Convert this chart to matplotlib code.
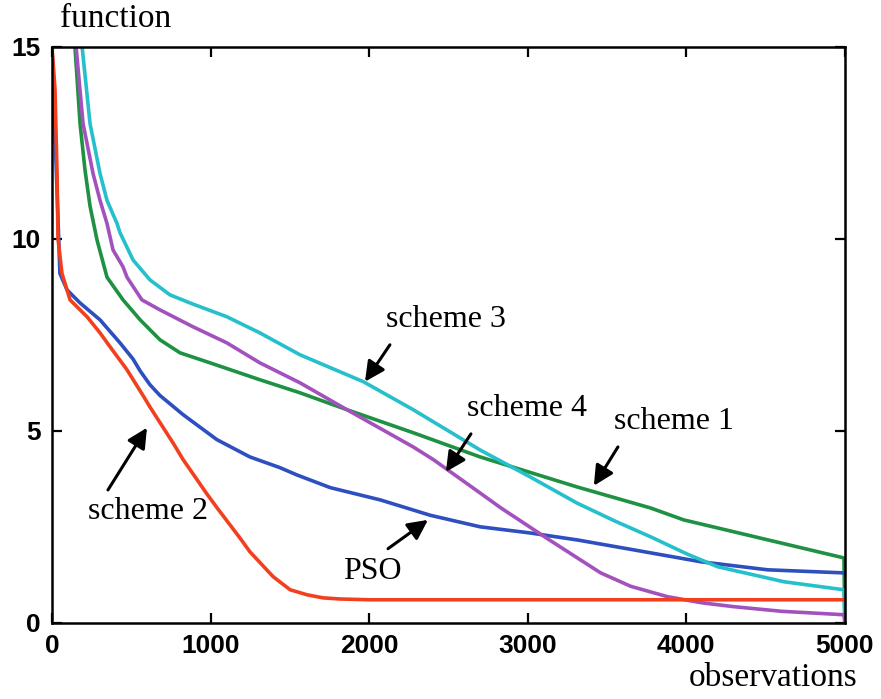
import matplotlib
matplotlib.use('Agg')
import matplotlib.pyplot as plt

# Curves (observations, function value)
pso_x = [0, 0, 50, 95, 177, 303, 429, 511, 556, 618, 681, 827, 1040, 1248, 1438, 1545, 1755,
         2071, 2386, 2700, 3015, 3310, 3668, 4091, 4514, 4994]
pso_y = [15.5, 15, 9.1, 8.67, 8.33, 7.89, 7.29, 6.87, 6.56, 6.2, 5.92, 5.42, 4.77, 4.32, 4.04, 3.85, 3.52,
         3.2, 2.8, 2.5, 2.34, 2.16, 1.9, 1.59, 1.38, 1.3]

s1_x = [135, 145, 177, 208, 240, 284, 347, 448, 556, 681, 808, 997, 1311, 1564, 1860,
        2278, 2700, 3310, 3775, 3984, 4514, 4994, 5000]
s1_y = [15.6, 15, 13.0, 11.8, 10.85, 9.97, 9.0, 8.41, 7.89, 7.37, 7.03, 6.77, 6.33, 5.99, 5.55,
        4.95, 4.32, 3.54, 2.99, 2.68, 2.16, 1.69, 0]

s2_x = [0, 0, 19, 32, 38, 63, 114, 221, 303, 366, 473, 574, 618, 764, 827, 978, 1040, 1187, 1248,
        1395, 1502, 1608, 1709, 1818, 2000, 5000]
s2_y = [15.5, 15, 13.9, 11.7, 10.0, 9.1, 8.41, 7.97, 7.55, 7.19, 6.59, 5.92, 5.62, 4.68, 4.25, 3.35, 3.0, 2.2, 1.85,
        1.2, 0.86, 0.73, 0.65, 0.62, 0.6, 0.6]

s3_x = [180, 190, 240, 303, 347, 410, 429, 511, 618, 744, 889, 1103, 1311, 1564, 1963, 2278,
        2700, 3015, 3310, 3550, 3775, 4000, 4198, 4615, 4994, 5000]
s3_y = [15.6, 15, 13.0, 11.7, 11.0, 10.4, 10.16, 9.45, 8.93, 8.54, 8.3, 7.97, 7.55, 6.98, 6.28, 5.55,
        4.5, 3.8, 3.12, 2.65, 2.24, 1.8, 1.46, 1.07, 0.86, 0]

s4_x = [142, 152, 196, 259, 303, 347, 385, 448, 473, 567, 681, 889, 1103, 1311, 1564, 1860, 2278,
        2405, 2700, 2828, 3121, 3460, 3650, 3882, 4100, 4300, 4600, 4994, 5000]
s4_y = [15.6, 15, 13.0, 11.7, 11.0, 10.4, 9.71, 9.27, 9.0, 8.41, 8.15, 7.71, 7.29, 6.77, 6.25, 5.55, 4.58,
        4.25, 3.38, 3.0, 2.2, 1.3, 0.95, 0.68, 0.52, 0.42, 0.3, 0.21, 0]

x_ticks = [0, 1000, 2000, 3000, 4000, 5000]
y_ticks = [0, 5, 10, 15]

fig = plt.figure(figsize=(8.81, 6.99), dpi=100)
ax = fig.add_axes([0.059, 0.109, 0.9, 0.824])

lw = 2.6
ax.plot(s1_x, s1_y, color='#1e9142', lw=lw)
ax.plot(pso_x, pso_y, color='#2e4fbf', lw=lw)
ax.plot(s3_x, s3_y, color='#25c0cb', lw=lw)
ax.plot(s4_x, s4_y, color='#a352bd', lw=lw)
ax.plot(s2_x, s2_y, color='#f2401e', lw=lw)

ax.set_xlim(0, 5000)
ax.set_ylim(0, 15)
ax.set_xticks(x_ticks)
ax.set_yticks(y_ticks)
ax.tick_params(direction='in', length=7, width=1.6, top=True, right=True,
               labelsize=19, pad=8)
for lab in ax.get_xticklabels() + ax.get_yticklabels():
    lab.set_fontfamily('Liberation Sans')
    lab.set_fontweight('bold')
for sp in ax.spines.values():
    sp.set_linewidth(1.8)

serif = 'Liberation Serif'
fig.text(0.068, 0.952, 'function', fontsize=24, family=serif, ha='left', va='bottom')
fig.text(0.973, 0.008, 'observations', fontsize=24, family=serif, ha='right', va='bottom')

# annotations: (label, text pos, arrow tail, arrow head)
notes = [
    ('scheme 3', (2484, 7.89), (2131, 7.24), (1974, 6.28)),
    ('scheme 4', (2995, 5.57), (2642, 4.92), (2484, 3.93)),
    ('scheme 1', (3922, 5.23), (3569, 4.58), (3417, 3.57)),
    ('PSO', (2018, 1.33), (2119, 1.93), (2371, 2.68)),
    ('scheme 2', (605, 2.89), (353, 3.46), (599, 5.08)),
]
for label, tpos, tail, head in notes:
    ax.text(tpos[0], tpos[1], label, fontsize=23, family=serif, ha='center', va='center')
    ax.annotate('', xy=head, xytext=tail,
                arrowprops=dict(arrowstyle='-|>', color='black', lw=2.2,
                                mutation_scale=30, shrinkA=0, shrinkB=0))

fig.savefig('out.png', dpi=100)
